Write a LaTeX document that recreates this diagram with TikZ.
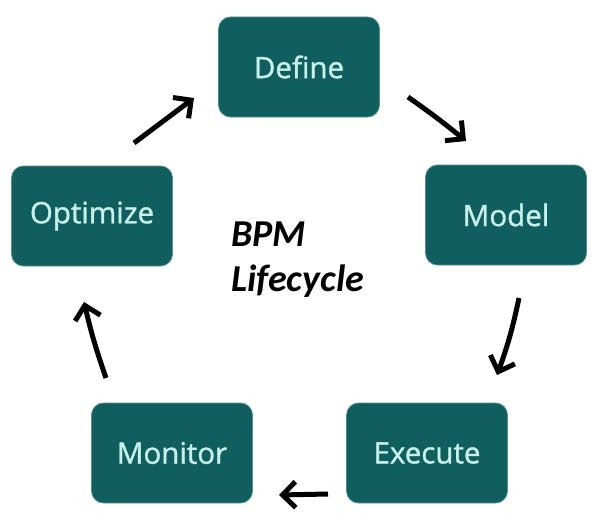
\documentclass[tikz,border=0pt]{standalone}
\usepackage{fontspec}
\setmainfont{Carlito}
\newfontfamily\boxfont[FakeBold=1.2]{Open Sans}
\usetikzlibrary{arrows.meta}
\definecolor{boxteal}{RGB}{16,94,94}
\definecolor{boxtext}{RGB}{200,240,235}
\tikzset{
  stagebox/.style={draw=boxteal!70!white, line width=0.8pt, fill=boxteal, rounded corners=12pt,
    minimum width=161pt, minimum height=100pt, text=boxtext, font=\boxfont\fontsize{29.5}{32}\selectfont, inner sep=0pt},
  cyclearrow/.style={line width=5pt, -{Straight Barb[length=13pt,width=26pt,line width=5pt]}, black}
}
\begin{document}
\begin{tikzpicture}[x=1pt,y=-1pt]
\useasboundingbox[fill=white] (0,0) rectangle (601,527);
\node[stagebox] (define) at (299,67) {Define};
\node[stagebox] (model) at (506,215) {Model};
\node[stagebox] (optimize) at (92,216) {Optimize};
\node[stagebox] (execute) at (427,453) {Execute};
\node[stagebox] (monitor) at (172,453) {Monitor};
\node[anchor=north west, align=left, font=\fontsize{38}{45}\selectfont\itshape\bfseries, inner sep=0pt] (title) at (231,222) {BPM\\Lifecycle};
\coordinate (a1s) at (134,143); \coordinate (a1e) at (194,98);
\coordinate (a2s) at (408,97); \coordinate (a2e) at (466,141);
\coordinate (a3s) at (519,298); \coordinate (a3e) at (497,375);
\coordinate (a4s) at (328,494); \coordinate (a4e) at (279,495);
\coordinate (a5s) at (106,378); \coordinate (a5e) at (84,302);
\draw[cyclearrow] (a1s) -- (a1e);
\draw[cyclearrow] (a2s) to[bend left=2] (a2e);
\draw[cyclearrow] (a3s) to[bend left=4] (a3e);
\draw[cyclearrow] (a4s) -- (a4e);
\draw[cyclearrow] (a5s) to[bend left=3] (a5e);
\end{tikzpicture}
\end{document}
